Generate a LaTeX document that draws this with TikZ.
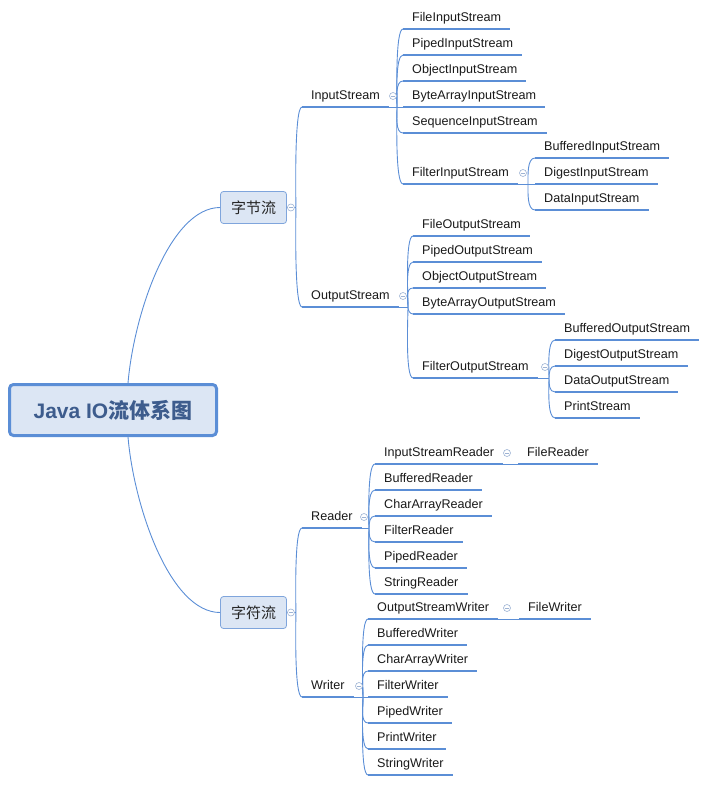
\documentclass[tikz,border=0pt]{standalone}
\usepackage{fontspec}
\setmainfont{Liberation Sans}
\newfontfamily\cjk{Noto Sans CJK SC}
\definecolor{mapline}{HTML}{5B8ED6}
\definecolor{mapfill}{HTML}{DCE6F4}
\definecolor{mapedge}{HTML}{7FA5DC}
\definecolor{maptext}{HTML}{3D5C8D}
\definecolor{mapknob}{HTML}{9DB3D4}

\begin{document}
\begin{tikzpicture}[
    x=1pt, y=1pt,
    root/.style={rectangle, draw=mapline, line width=3pt, fill=mapfill, rounded corners=4pt, minimum width=207pt, minimum height=51pt, font=\fontsize{21}{24}\selectfont\bfseries, text=maptext},
    group/.style={rectangle, draw=mapedge, line width=0.8pt, fill=mapfill, rounded corners=3pt, minimum width=66pt, minimum height=32pt, font=\cjk\fontsize{15}{18}\selectfont, text=black!85},
    item/.style={anchor=south west, inner xsep=9pt, inner ysep=0pt, text height=10pt, text depth=7pt, font=\fontsize{12.6}{15}\selectfont, text=black!90, append after command={(\tikzlastnode.south west) edge[uline] (\tikzlastnode.south east)}},
    knob/.style={circle, draw=mapknob, fill=white, line width=0.6pt, minimum size=7pt, inner sep=0pt, path picture={\draw[mapknob, line width=0.6pt] ([xshift=-2pt]path picture bounding box.center) -- ([xshift=2pt]path picture bounding box.center);}},
    uline/.style={draw=mapline, line width=2pt},
    branch/.style={draw=mapline, line width=0.9pt},
    rise/.style={branch, out=90, in=180, max distance=8pt},
    fall/.style={branch, out=-90, in=180, max distance=8pt}
]
    \useasboundingbox (0,0) rectangle (720,-786);

    % Centre and the two groups
    \node [root] (root) at (113,-410) {Java IO{\cjk 流体系图}};
    \node [group] (zjl) at (253.5,-207.5) {字节流};
    \node [group] (zfl) at (253.5,-612.5) {字符流};
    \coordinate (root-n) at ([xshift=15pt]root.north);
    \coordinate (root-s) at ([xshift=15pt]root.south);
    \coordinate (zjl-h) at ([xshift=9pt]zjl.east);
    \coordinate (zfl-h) at ([xshift=9pt]zfl.east);

    % Byte streams
    \node [item] (instream) at (302,-107) {InputStream};
    \node [item] (outstream) at (302,-307) {OutputStream};
    \coordinate (instream-h) at (397,-107);
    \coordinate (outstream-h) at (408,-307);

    \node [item] (fis) at (403,-29) {FileInputStream};
    \node [item] (pis) at ([yshift=-26pt]fis.south west) {PipedInputStream};
    \node [item] (ois) at ([yshift=-26pt]pis.south west) {ObjectInputStream};
    \node [item] (bais) at ([yshift=-26pt]ois.south west) {ByteArrayInputStream};
    \node [item] (sis) at ([yshift=-26pt]bais.south west) {SequenceInputStream};
    \node [item] (filis) at (403,-184) {FilterInputStream};
    \coordinate (filis-h) at (528,-184);

    \node [item] (bis) at (535,-158) {BufferedInputStream};
    \node [item] (dis) at ([yshift=-26pt]bis.south west) {DigestInputStream};
    \node [item] (dais) at ([yshift=-26pt]dis.south west) {DataInputStream};

    \node [item] (fos) at (413,-236) {FileOutputStream};
    \node [item] (pos) at ([yshift=-26pt]fos.south west) {PipedOutputStream};
    \node [item] (oos) at ([yshift=-26pt]pos.south west) {ObjectOutputStream};
    \node [item] (baos) at ([yshift=-26pt]oos.south west) {ByteArrayOutputStream};
    \node [item] (filos) at (413,-378) {FilterOutputStream};
    \coordinate (filos-h) at (549,-378);

    \node [item] (bos) at (555,-340) {BufferedOutputStream};
    \node [item] (dos) at ([yshift=-26pt]bos.south west) {DigestOutputStream};
    \node [item] (daos) at ([yshift=-26pt]dos.south west) {DataOutputStream};
    \node [item] (ps) at ([yshift=-26pt]daos.south west) {PrintStream};

    % Character streams
    \node [item] (reader) at (302,-528) {Reader};
    \node [item] (writer) at (302,-697) {Writer};
    \coordinate (reader-h) at (369,-528);
    \coordinate (writer-h) at (363,-697);

    \node [item] (isr) at (375,-464) {InputStreamReader};
    \node [item] (br) at ([yshift=-26pt]isr.south west) {BufferedReader};
    \node [item] (car) at ([yshift=-26pt]br.south west) {CharArrayReader};
    \node [item] (fr) at ([yshift=-26pt]car.south west) {FilterReader};
    \node [item] (pr) at ([yshift=-26pt]fr.south west) {PipedReader};
    \node [item] (sr) at ([yshift=-26pt]pr.south west) {StringReader};
    \node [item] (fread) at (518,-464) {FileReader};

    \node [item] (osw) at (368,-619) {OutputStreamWriter};
    \node [item] (bw) at ([yshift=-26pt]osw.south west) {BufferedWriter};
    \node [item] (caw) at ([yshift=-26pt]bw.south west) {CharArrayWriter};
    \node [item] (fw) at ([yshift=-26pt]caw.south west) {FilterWriter};
    \node [item] (pw) at ([yshift=-26pt]fw.south west) {PipedWriter};
    \node [item] (prw) at ([yshift=-26pt]pw.south west) {PrintWriter};
    \node [item] (sw) at ([yshift=-26pt]prw.south west) {StringWriter};
    \node [item] (fwrite) at (519,-619) {FileWriter};

    % Root branches
    \draw [branch] (root-n) .. controls +(6,70) and +(-50,0) .. (zjl.west);
    \draw [branch] (root-s) .. controls +(6,-70) and +(-50,0) .. (zfl.west);

    % Group branches
    \draw [branch] (zjl.east) -- (zjl-h);
    \draw [rise] (zjl-h) to (instream.south west);
    \draw [fall] (zjl-h) to (outstream.south west);
    \draw [branch] (zfl.east) -- (zfl-h);
    \draw [rise] (zfl-h) to (reader.south west);
    \draw [fall] (zfl-h) to (writer.south west);

    % InputStream branches
    \draw [branch] (instream.south east) -- (instream-h);
    \draw [rise] (instream-h) to (fis.south west);
    \draw [rise] (instream-h) to (pis.south west);
    \draw [rise] (instream-h) to (ois.south west);
    \draw [branch] (instream-h) -- (bais.south west);
    \draw [fall] (instream-h) to (sis.south west);
    \draw [fall] (instream-h) to (filis.south west);
    \draw [branch] (filis.south east) -- (filis-h);
    \draw [rise] (filis-h) to (bis.south west);
    \draw [branch] (filis-h) -- (dis.south west);
    \draw [fall] (filis-h) to (dais.south west);

    % OutputStream branches
    \draw [branch] (outstream.south east) -- (outstream-h);
    \draw [rise] (outstream-h) to (fos.south west);
    \draw [rise] (outstream-h) to (pos.south west);
    \draw [rise] (outstream-h) to (oos.south west);
    \draw [fall] (outstream-h) to (baos.south west);
    \draw [fall] (outstream-h) to (filos.south west);
    \draw [branch] (filos.south east) -- (filos-h);
    \draw [rise] (filos-h) to (bos.south west);
    \draw [rise] (filos-h) to (dos.south west);
    \draw [fall] (filos-h) to (daos.south west);
    \draw [fall] (filos-h) to (ps.south west);

    % Reader branches
    \draw [branch] (reader.south east) -- (reader-h);
    \draw [rise] (reader-h) to (isr.south west);
    \draw [rise] (reader-h) to (br.south west);
    \draw [rise] (reader-h) to (car.south west);
    \draw [fall] (reader-h) to (fr.south west);
    \draw [fall] (reader-h) to (pr.south west);
    \draw [fall] (reader-h) to (sr.south west);
    \draw [branch] (isr.south east) -- (fread.south west);

    % Writer branches
    \draw [branch] (writer.south east) -- (writer-h);
    \draw [rise] (writer-h) to (osw.south west);
    \draw [rise] (writer-h) to (bw.south west);
    \draw [rise] (writer-h) to (caw.south west);
    \draw [branch] (writer-h) -- (fw.south west);
    \draw [fall] (writer-h) to (pw.south west);
    \draw [fall] (writer-h) to (prw.south west);
    \draw [fall] (writer-h) to (sw.south west);
    \draw [branch] (osw.south east) -- (fwrite.south west);

    % Collapse knobs
    \node [knob] (zjl-k) at ([xshift=4pt]zjl.east) {};
    \node [knob] (zfl-k) at ([xshift=4pt]zfl.east) {};
    \node [knob] (instream-k) at ([xshift=-4pt,yshift=11pt]instream-h) {};
    \node [knob] (outstream-k) at ([xshift=-5pt,yshift=11pt]outstream-h) {};
    \node [knob] (filis-k) at ([xshift=-5pt,yshift=11pt]filis-h) {};
    \node [knob] (filos-k) at ([xshift=-4pt,yshift=11pt]filos-h) {};
    \node [knob] (reader-k) at ([xshift=-5pt,yshift=11pt]reader-h) {};
    \node [knob] (writer-k) at ([xshift=-4pt,yshift=11pt]writer-h) {};
    \node [knob] (isr-k) at ([xshift=-11pt,yshift=11pt]fread.south west) {};
    \node [knob] (osw-k) at ([xshift=-12pt,yshift=11pt]fwrite.south west) {};
\end{tikzpicture}
\end{document}
